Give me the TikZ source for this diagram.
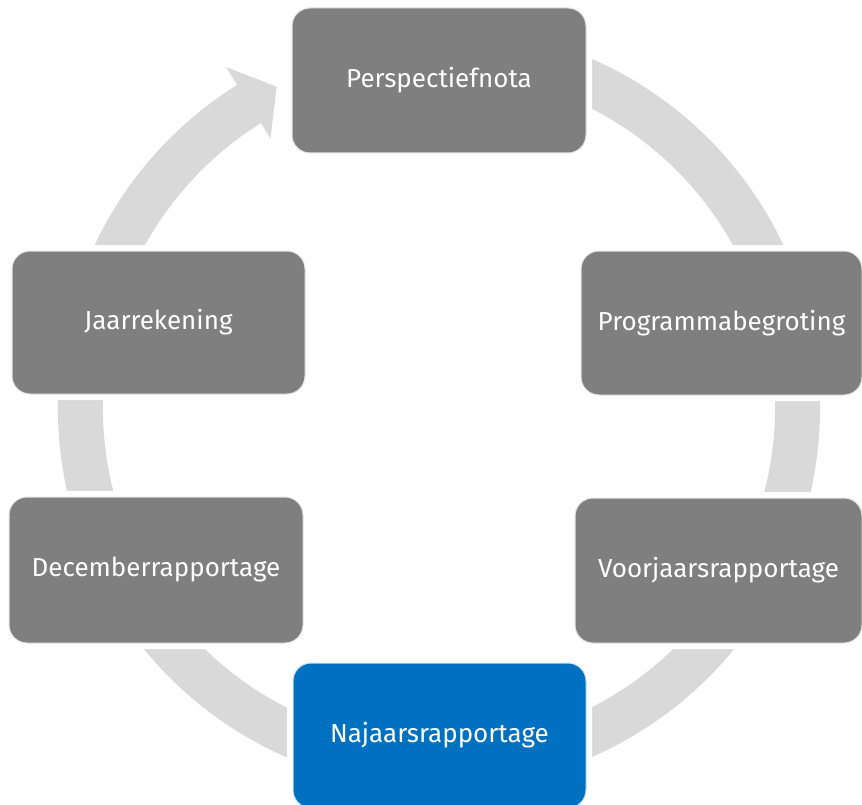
\documentclass[tikz,border=0pt]{standalone}
\usepackage{fontspec}
\setmainfont{Fira Sans}
\usetikzlibrary{calc}
\definecolor{ringgray}{HTML}{D9D9D9}
\definecolor{boxgray}{HTML}{7F7F7F}
\definecolor{boxblue}{HTML}{0070C0}
\begin{document}
\begin{tikzpicture}[x=1pt,y=1pt,
  stagebox/.style={rounded corners=18pt, fill=boxgray, draw=white!80!boxgray, line width=1pt,
    text=white, font=\fontsize{26}{30}\selectfont, inner sep=0pt,
    preaction={draw=white, line width=12pt}},
  bluebox/.style={stagebox, fill=boxblue, draw=white!80!boxblue}]
\useasboundingbox (0,0) rectangle (862,-805);
\clip (0,0) rectangle (862,-805);
\coordinate (c) at (439,-408);
% ring with arrowhead
\fill[ringgray] ($(c)+(80:381)$) arc[start angle=80, end angle=-238, radius=381]
  -- ($(c)+(-238:402)$) -- ($(c)+(-243.2:360)$) -- ($(c)+(-238:318)$)
  -- ($(c)+(-238:336)$) arc[start angle=-238, end angle=80, radius=336] -- cycle;
% stages
\node[stagebox, minimum width=294pt, minimum height=145pt] (persp) at (439,-80.5) {Perspectiefnota};
\node[stagebox, minimum width=281pt, minimum height=144pt] (prog) at (721.5,-323) {Programmabegroting};
\node[stagebox, minimum width=287pt, minimum height=145pt] (voor) at (718.5,-570.5) {Voorjaarsrapportage};
\node[bluebox, minimum width=293pt, minimum height=145pt] (naj) at (439.5,-735.5) {Najaarsrapportage};
\node[stagebox, minimum width=294pt, minimum height=146pt] (dec) at (156,-570) {Decemberrapportage};
\node[stagebox, minimum width=293pt, minimum height=143pt] (jaar) at (158.5,-322.5) {Jaarrekening};
\end{tikzpicture}
\end{document}
